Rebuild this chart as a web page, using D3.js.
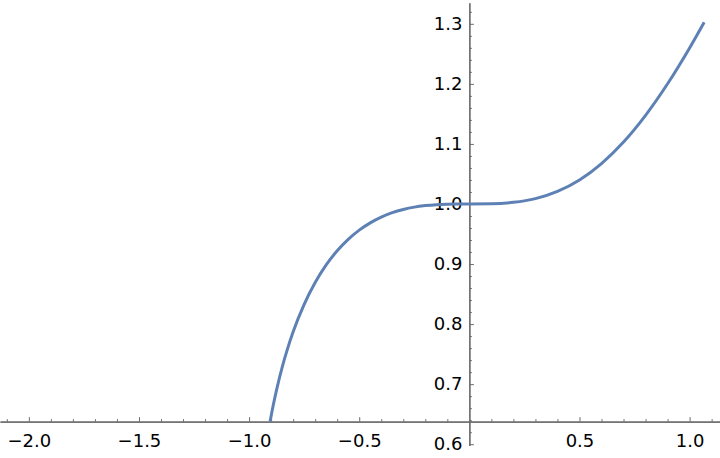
<!DOCTYPE html>
<html>
<head>
<meta charset="utf-8">
<script src="https://cdn.jsdelivr.net/npm/d3@7"></script>
<style>
  body { margin: 0; background: #fff; }
  svg { display: block; }
  .axis text { font-family: "DejaVu Sans", sans-serif; font-size: 18px; fill: #000; }
  .axis path, .axis line { stroke: #6b6b6b; }
</style>
</head>
<body>
<div id="viz"></div>
<script>
var width = 720,
    height = 458;

// plot range (what the frame shows) and where the axes cross
var xRange = [-2.131, 1.138],
    yRange = [0.598, 1.335],
    axisCross = { x: 0, y: 0.6375 };

var xMajor = [-2.0, -1.5, -1.0, -0.5, 0.5, 1.0];
var xMinor = [-2.1, -1.9, -1.8, -1.7, -1.6, -1.4, -1.3, -1.2, -1.1, -0.9, -0.8, -0.7, -0.6,
              -0.4, -0.3, -0.2, -0.1, 0.1, 0.2, 0.3, 0.4, 0.6, 0.7, 0.8, 0.9, 1.1];
var yMajor = [0.6, 0.7, 0.8, 0.9, 1.0, 1.1, 1.2, 1.3];
var yMinor = [0.62, 0.64, 0.66, 0.68, 0.72, 0.74, 0.76, 0.78, 0.82, 0.84, 0.86, 0.88,
              0.92, 0.94, 0.96, 0.98, 1.02, 1.04, 1.06, 1.08, 1.12, 1.14, 1.16, 1.18,
              1.22, 1.24, 1.26, 1.28, 1.32];

// points
var curveX = [-0.905, -0.89, -0.875, -0.85, -0.825, -0.8, -0.75, -0.7, -0.65, -0.6, -0.55,
              -0.5, -0.45, -0.4, -0.35, -0.3, -0.25, -0.2, -0.15, -0.1, -0.05, 0,
              0.1, 0.2, 0.3, 0.4, 0.5, 0.6, 0.7, 0.8, 0.9, 1.0, 1.066];
var curveY = [0.6373, 0.6658, 0.6910, 0.7281, 0.7596, 0.7873, 0.8330, 0.8693, 0.8985, 0.9221, 0.9411,
              0.9565, 0.9686, 0.9782, 0.9855, 0.9909, 0.9948, 0.9973, 0.9989, 0.9997, 1.0000, 1.0,
              1.0003, 1.0027, 1.0089, 1.0209, 1.0400, 1.0673, 1.1032, 1.1477, 1.2002, 1.2599, 1.3025];

var x = d3.scaleLinear().domain(xRange).range([0, width]);
var y = d3.scaleLinear().domain(yRange).range([445.4, 2.8]);

var svg = d3.select("#viz").append("svg")
  .attr("width", width)
  .attr("height", height);

var fmt = d3.format(".1f");

// x axis: minor then major ticks, ticks pointing up into the plot
var xAxisG = svg.append("g")
  .attr("class", "axis")
  .attr("transform", "translate(0," + y(axisCross.y) + ")");

xAxisG.append("g")
  .call(d3.axisBottom(x).tickValues(xMinor).tickSize(-2.5).tickSizeOuter(0).tickFormat(""));
xAxisG.append("g")
  .call(d3.axisBottom(x).tickValues(xMajor).tickSize(-4.5).tickSizeOuter(0)
    .tickPadding(13).tickFormat(fmt));
xAxisG.selectAll(".domain").attr("stroke-width", 1.2);

// y axis
var yAxisG = svg.append("g")
  .attr("class", "axis")
  .attr("transform", "translate(" + x(axisCross.x) + ",0)");

yAxisG.append("g")
  .call(d3.axisLeft(y).tickValues(yMinor).tickSize(-2.5).tickSizeOuter(0).tickFormat(""));
yAxisG.append("g")
  .call(d3.axisLeft(y).tickValues(yMajor).tickSize(-4.5).tickSizeOuter(0)
    .tickPadding(7).tickFormat(fmt));
yAxisG.selectAll(".domain").attr("stroke-width", 1.2);

// the curve, clipped at the x axis
svg.append("clipPath")
  .attr("id", "plotClip")
  .append("rect")
    .attr("x", 0)
    .attr("y", 0)
    .attr("width", width)
    .attr("height", y(axisCross.y));

var line = d3.line()
  .x(function(d, i) { return x(curveX[i]); })
  .y(function(d, i) { return y(curveY[i]); })
  .curve(d3.curveMonotoneX);

svg.append("path")
  .datum(curveX)
  .attr("clip-path", "url(#plotClip)")
  .attr("d", line)
  .attr("fill", "none")
  .attr("stroke", "#5e81b5")
  .attr("stroke-width", 3)
  .attr("stroke-linejoin", "round");
</script>
</body>
</html>
